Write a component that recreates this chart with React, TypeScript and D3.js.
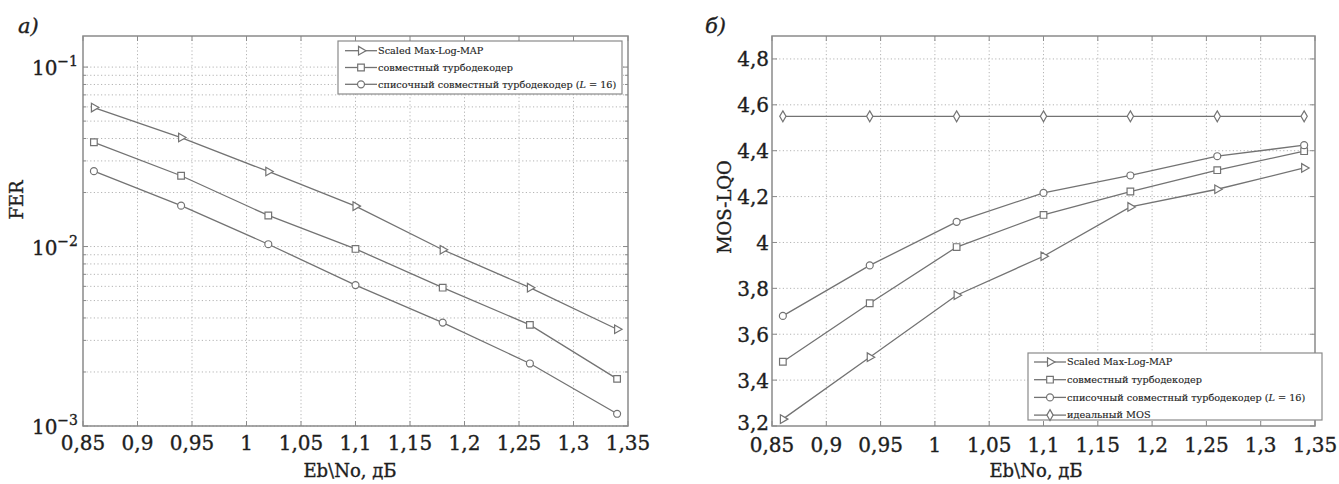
import React from 'react';
import * as d3 from 'd3';

// Eb/No points, dB
const ebNo = [0.86, 0.94, 1.02, 1.1, 1.18, 1.26, 1.34];

// panel a) FER
const ferScaled = [0.0595, 0.0405, 0.0262, 0.0168, 0.0096, 0.0059, 0.00346];
const ferJoint = [0.0381, 0.0248, 0.0149, 0.0097, 0.0059, 0.00366, 0.00183];
const ferList = [0.0263, 0.0169, 0.0103, 0.0061, 0.00377, 0.00223, 0.00117];

// panel б) MOS-LQO
const mosScaled = [3.23, 3.5, 3.77, 3.94, 4.155, 4.232, 4.325];
const mosJoint = [3.48, 3.735, 3.98, 4.12, 4.222, 4.315, 4.398];
const mosList = [3.68, 3.9, 4.09, 4.216, 4.292, 4.376, 4.424];
const mosIdeal = [4.55, 4.55, 4.55, 4.55, 4.55, 4.55, 4.55];

const xTicks = [0.85, 0.9, 0.95, 1, 1.05, 1.1, 1.15, 1.2, 1.25, 1.3, 1.35];
const ferTicks = [1e-3, 1e-2, 1e-1];
const ferExp = ['−3', '−2', '−1'];
const mosTicks = [3.2, 3.4, 3.6, 3.8, 4, 4.2, 4.4, 4.6, 4.8];

const legendA = ['Scaled Max-Log-MAP', 'совместный турбодекодер', 'списочный совместный турбодекодер'];
const legendB = ['Scaled Max-Log-MAP', 'совместный турбодекодер', 'списочный совместный турбодекодер', 'идеальный MOS'];

const SERIF = '"DejaVu Serif", serif';
const INK = '#1e1e1e';
const LINE = '#737373';
const FRAME = '#8a8a8a';
const GRID = '#b4b4b4';

// slightly heavier text, closer to the printed figure
const heavy = { fill: INK, stroke: INK, strokeWidth: 0.35 };

const comma = (v: number) => String(+v.toFixed(2)).replace('.', ',');

const Marker = ({ kind, x, y }: { kind: string; x: number; y: number }) => {
  let d: string | null = '';
  let rot = 0;
  if (kind === 'tri') { d = d3.symbol(d3.symbolTriangle, 32)(); rot = 90; }
  if (kind === 'sq') d = d3.symbol(d3.symbolSquare, 44)();
  if (kind === 'circ') d = d3.symbol(d3.symbolCircle, 38)();
  if (kind === 'dia') d = d3.symbol(d3.symbolDiamond, 34)();
  return <path d={d || ''} transform={`translate(${x},${y}) rotate(${rot})`} fill="white" stroke={LINE} strokeWidth={1.2} />;
};

const kinds = ['tri', 'sq', 'circ', 'dia'];

const LegendLabel = ({ text, x, y }: { text: string; x: number; y: number }) => (
  <text x={x} y={y} dy="0.35em" fontFamily={SERIF} fontSize={9.7} fill={INK} stroke={INK} strokeWidth={0.15}>
    {text}
    {text.startsWith('списочный') && <> (<tspan fontStyle="italic">L</tspan> = 16)</>}
  </text>
);

const Frame = ({ l, r, t, b }: { l: number; r: number; t: number; b: number }) => (
  <rect x={l} y={t} width={r - l} height={b - t} fill="none" stroke={FRAME} strokeWidth={1.5} />
);

export default function App() {
  // panel a geometry
  const A = { l: 83, r: 628, t: 36, b: 426 };
  const xa = d3.scaleLinear().domain([0.85, 1.35]).range([A.l, A.r]);
  const ya = d3.scaleLog().domain([1e-3, 0.149]).range([A.b, A.t]);
  const minorA: number[] = [];
  [1e-3, 1e-2, 1e-1].forEach((dec) => {
    for (let k = 2; k <= 9; k++) if (dec * k < 0.149) minorA.push(dec * k);
  });
  const lineA = d3.line<number>().x((_, i) => xa(ebNo[i])).y((v) => ya(v));
  const seriesA = [ferScaled, ferJoint, ferList];

  // panel б geometry
  const B = { l: 772, r: 1315, t: 36, b: 426 };
  const xb = d3.scaleLinear().domain([0.85, 1.35]).range([B.l, B.r]);
  const yb = d3.scaleLinear().domain([3.2, 4.9]).range([B.b, B.t]);
  const lineB = d3.line<number>().x((_, i) => xb(ebNo[i])).y((v) => yb(v));
  const seriesB = [mosScaled, mosJoint, mosList, mosIdeal];

  const grid = { stroke: GRID, strokeWidth: 1, strokeDasharray: '1.2,2.4' };

  return (
    <svg width={1339} height={484} style={{ position: 'absolute', left: 0, top: 0, background: 'white' }}>
      {/* ---------- panel a ---------- */}
      <text x={18} y={33} fontFamily={SERIF} fontSize={21} fontStyle="italic" {...heavy}>a)</text>
      <rect x={A.l} y={A.t} width={A.r - A.l} height={A.b - A.t} fill="white" />
      {xTicks.slice(1, -1).map((v) => (
        <line key={'gx' + v} x1={xa(v)} x2={xa(v)} y1={A.t} y2={A.b} {...grid} />
      ))}
      {[...ferTicks, ...minorA].map((v) => (
        <line key={'gy' + v} x1={A.l} x2={A.r} y1={ya(v)} y2={ya(v)} {...grid} />
      ))}
      {xTicks.map((v) => (
        <g key={'tx' + v} stroke={FRAME}>
          <line x1={xa(v)} x2={xa(v)} y1={A.b} y2={A.b - 5} />
          <line x1={xa(v)} x2={xa(v)} y1={A.t} y2={A.t + 5} />
        </g>
      ))}
      {ferTicks.map((v) => (
        <g key={'ty' + v} stroke={FRAME}>
          <line x1={A.l} x2={A.l + 5} y1={ya(v)} y2={ya(v)} />
          <line x1={A.r} x2={A.r - 5} y1={ya(v)} y2={ya(v)} />
        </g>
      ))}
      {minorA.map((v) => (
        <g key={'tm' + v} stroke={FRAME}>
          <line x1={A.l} x2={A.l + 3} y1={ya(v)} y2={ya(v)} />
          <line x1={A.r} x2={A.r - 3} y1={ya(v)} y2={ya(v)} />
        </g>
      ))}
      {seriesA.map((s, si) => (
        <g key={'sa' + si}>
          <path d={lineA(s) || ''} fill="none" stroke={LINE} strokeWidth={1.3} />
          {s.map((v, i) => <Marker key={i} kind={kinds[si]} x={xa(ebNo[i])} y={ya(v)} />)}
        </g>
      ))}
      <Frame {...A} />
      {xTicks.map((v) => (
        <text key={'lx' + v} x={xa(v)} y={450} textAnchor="middle" fontFamily={SERIF} fontSize={20} {...heavy}>{comma(v)}</text>
      ))}
      {ferTicks.map((v, i) => (
        <text key={'ly' + v} x={78} y={ya(v) + 8} textAnchor="end" fontFamily={SERIF} fontSize={20} {...heavy}>
          10<tspan dy={-9} fontSize={14}>{ferExp[i]}</tspan>
        </text>
      ))}
      <text x={350} y={477} textAnchor="middle" fontFamily={SERIF} fontSize={18} {...heavy}>Eb\No, дБ</text>
      <text transform="translate(23,200) rotate(-90)" textAnchor="middle" fontFamily={SERIF} fontSize={18} {...heavy}>FER</text>
      <rect x={338} y={41} width={284} height={53} fill="white" stroke={FRAME} strokeWidth={1.2} />
      {legendA.map((t, i) => {
        const y = 50.7 + i * 16.8;
        return (
          <g key={'la' + i}>
            <line x1={345} x2={377} y1={y} y2={y} stroke={LINE} strokeWidth={1.3} />
            <Marker kind={kinds[i]} x={361} y={y} />
            <LegendLabel text={t} x={378} y={y} />
          </g>
        );
      })}

      {/* ---------- panel б ---------- */}
      <text x={705} y={33} fontFamily={SERIF} fontSize={21} fontStyle="italic" {...heavy}>б)</text>
      <rect x={B.l} y={B.t} width={B.r - B.l} height={B.b - B.t} fill="white" />
      {xTicks.slice(1, -1).map((v) => (
        <line key={'gbx' + v} x1={xb(v)} x2={xb(v)} y1={B.t} y2={B.b} {...grid} />
      ))}
      {mosTicks.slice(1).map((v) => (
        <line key={'gby' + v} x1={B.l} x2={B.r} y1={yb(v)} y2={yb(v)} {...grid} />
      ))}
      {xTicks.map((v) => (
        <g key={'tbx' + v} stroke={FRAME}>
          <line x1={xb(v)} x2={xb(v)} y1={B.b} y2={B.b - 5} />
          <line x1={xb(v)} x2={xb(v)} y1={B.t} y2={B.t + 5} />
        </g>
      ))}
      {mosTicks.map((v) => (
        <g key={'tby' + v} stroke={FRAME}>
          <line x1={B.l} x2={B.l + 5} y1={yb(v)} y2={yb(v)} />
          <line x1={B.r} x2={B.r - 5} y1={yb(v)} y2={yb(v)} />
        </g>
      ))}
      {seriesB.map((s, si) => (
        <g key={'sb' + si}>
          <path d={lineB(s) || ''} fill="none" stroke={LINE} strokeWidth={1.3} />
          {s.map((v, i) => <Marker key={i} kind={kinds[si]} x={xb(ebNo[i])} y={yb(v)} />)}
        </g>
      ))}
      <Frame {...B} />
      {xTicks.map((v) => (
        <text key={'lbx' + v} x={xb(v)} y={452} textAnchor="middle" fontFamily={SERIF} fontSize={20} {...heavy}>{comma(v)}</text>
      ))}
      {mosTicks.map((v, i) => (
        <text key={'lby' + v} x={769} y={yb(v) + (i === 0 ? 4 : 7.5)} textAnchor="end" fontFamily={SERIF} fontSize={20} {...heavy}>{comma(v)}</text>
      ))}
      <text x={1036} y={477} textAnchor="middle" fontFamily={SERIF} fontSize={18} {...heavy}>Eb\No, дБ</text>
      <text transform="translate(731,207) rotate(-90)" textAnchor="middle" fontFamily={SERIF} fontSize={18} {...heavy}>MOS-LQO</text>
      <rect x={1028} y={353} width={294} height={67} fill="white" stroke={FRAME} strokeWidth={1.2} />
      {legendB.map((t, i) => {
        const y = 362 + i * 17.7;
        return (
          <g key={'lb' + i}>
            <line x1={1034} x2={1066} y1={y} y2={y} stroke={LINE} strokeWidth={1.3} />
            <Marker kind={kinds[i]} x={1050} y={y} />
            <LegendLabel text={t} x={1067} y={y} />
          </g>
        );
      })}
    </svg>
  );
}
